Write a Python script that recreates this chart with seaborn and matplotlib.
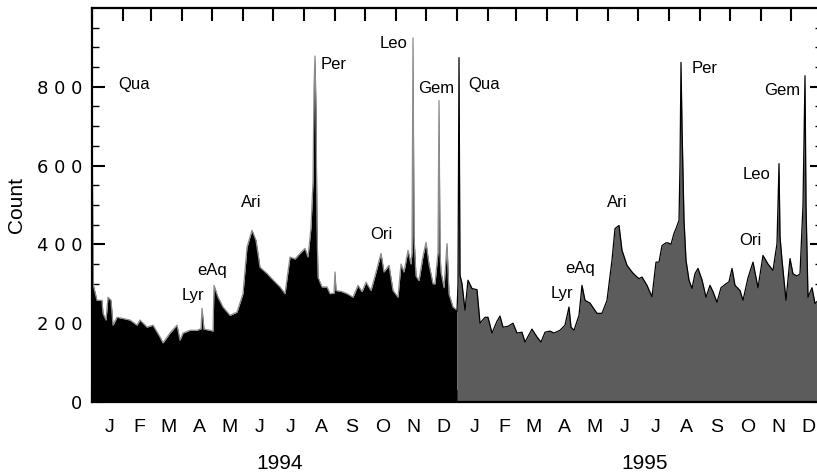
import pandas as pd
import matplotlib
matplotlib.use("Agg")
import matplotlib.pyplot as plt
import seaborn as sns

# daily meteor counts (day of year, count)
days_1994 = [0, 1, 5, 10, 11, 14, 16, 19, 21, 25,
             31, 38, 45, 48, 55, 61, 68, 71, 78, 85,
             88, 91, 98, 105, 109, 110, 112, 118, 121, 122,
             126, 131, 138, 145, 151, 155, 160, 164, 168, 175,
             181, 188, 193, 198, 203, 208, 213, 216, 219, 221,
             222, 223, 224, 225, 226, 230, 235, 238, 242, 243,
             244, 250, 255, 261, 266, 270, 274, 279, 284, 289,
             292, 297, 301, 306, 309, 312, 316, 319, 320, 321,
             322, 324, 327, 331, 334, 337, 341, 343, 346, 347,
             348, 349, 352, 355, 357, 361, 365]
count_1994 = [820, 300, 258, 258, 225, 208, 266, 258, 195, 215,
              212, 208, 195, 208, 190, 195, 165, 150, 175, 195,
              157, 175, 182, 182, 186, 238, 185, 182, 180, 296,
              266, 241, 220, 228, 275, 393, 436, 410, 342, 326,
              310, 292, 275, 368, 363, 377, 390, 368, 443, 560,
              800, 878, 740, 450, 317, 292, 292, 275, 276, 330,
              283, 280, 275, 266, 296, 280, 304, 283, 329, 377,
              330, 347, 283, 266, 350, 330, 385, 350, 380, 924,
              420, 320, 308, 370, 405, 350, 300, 300, 380, 765,
              380, 330, 290, 402, 274, 241, 233]

days_1995 = [0, 1, 2, 3, 5, 8, 11, 15, 20, 23,
             28, 31, 35, 40, 43, 46, 51, 56, 60, 65,
             68, 75, 80, 84, 88, 93, 97, 103, 108, 112,
             114, 117, 122, 125, 128, 133, 140, 145, 150, 155,
             158, 162, 165, 170, 175, 178, 182, 185, 190, 195,
             199, 202, 205, 209, 211, 214, 217, 219, 222, 223,
             224, 225, 227, 229, 232, 235, 238, 241, 245, 249,
             253, 256, 260, 264, 269, 272, 275, 278, 283, 286,
             291, 296, 301, 306, 311, 316, 320, 321, 322, 323,
             325, 329, 333, 336, 340, 343, 346, 348, 349, 351,
             355, 358, 362, 365]
count_1995 = [230, 300, 874, 322, 300, 233, 309, 288, 285, 200,
              215, 215, 175, 205, 218, 190, 192, 200, 175, 177,
              152, 185, 165, 152, 177, 180, 175, 182, 195, 241,
              190, 182, 220, 296, 258, 251, 225, 225, 258, 360,
              440, 448, 385, 347, 330, 322, 313, 317, 296, 267,
              355, 355, 397, 404, 404, 400, 428, 440, 461, 600,
              862, 700, 461, 360, 309, 288, 326, 339, 310, 266,
              296, 280, 253, 290, 300, 305, 339, 296, 283, 258,
              315, 355, 290, 372, 350, 334, 402, 500, 605, 420,
              360, 258, 364, 325, 320, 325, 500, 828, 500, 266,
              290, 250, 260, 258]

month_letters = ['J', 'F', 'M', 'A', 'M', 'J', 'J', 'A', 'S', 'O', 'N', 'D']
month_lengths = [31, 28, 31, 30, 31, 30, 31, 31, 30, 31, 30, 31]
years = ['1994', '1995']

# shower labels: name, day (running over both years), count, alignment
shower_names = ['Qua', 'Lyr', 'eAq', 'Ari', 'Per', 'Ori', 'Leo', 'Gem',
                'Qua', 'Lyr', 'eAq', 'Ari', 'Per', 'Ori', 'Leo', 'Gem']
shower_x = [26, 101, 120, 159, 229, 289, 316, 344,
            376, 470, 488, 525, 600, 658, 665, 690]
shower_y = [805, 271, 334, 506, 856, 425, 911, 795,
            805, 276, 339, 506, 846, 410, 577, 790]
shower_ha = ['left', 'center', 'center', 'center', 'left', 'center', 'right', 'center',
             'left', 'center', 'center', 'center', 'left', 'center', 'center', 'center']

sns.set_style("ticks")
plt.rcParams['font.family'] = ['Liberation Sans', 'DejaVu Sans']
for key in ['text.color', 'axes.labelcolor', 'xtick.color', 'ytick.color', 'axes.edgecolor']:
    plt.rcParams[key] = 'black'

df94 = pd.DataFrame({'day': days_1994, 'count': count_1994})
df95 = pd.DataFrame({'day': [d + 365 for d in days_1995], 'count': count_1995})

fig = plt.figure(figsize=(8.17, 4.73), dpi=100)
ax = fig.add_axes([92 / 817, 71 / 473, 730 / 817, 394 / 473])

ax.fill_between(df94['day'], df94['count'], color='black', lw=0)
ax.fill_between(df95['day'], df95['count'], color='#5c5c5c', lw=0)
sns.lineplot(data=df94, x='day', y='count', color='#8c8c8c', lw=0.9, ax=ax)
sns.lineplot(data=df95, x='day', y='count', color='black', lw=0.9, ax=ax)

ax.set_xlim(0, 730)
ax.set_ylim(0, 1000)

# month boundaries and month centres for both years
starts = []
mids = []
for yr in range(2):
    s = 365 * yr
    for ml in month_lengths:
        starts.append(s)
        mids.append(s + ml / 2 + 2)
        s += ml
ax.set_xticks(starts)
ax.set_xticklabels([])
ax.set_xticks(mids, minor=True)
ax.set_xticklabels(month_letters * 2, minor=True)
ax.tick_params(axis='x', which='major', direction='in', length=9, width=1.5,
               top=True, bottom=True, labelbottom=False)
ax.tick_params(axis='x', which='minor', length=0, pad=12, labelsize=14)

ax.set_yticks(range(0, 1000, 200))
ax.set_yticklabels([' '.join(str(v)) for v in range(0, 1000, 200)],
                   fontfamily='DejaVu Sans')
ax.set_yticks(range(0, 1000, 50), minor=True)
ax.tick_params(axis='y', which='major', direction='in', length=9, width=1.5,
               left=True, right=True, labelsize=13, pad=7)
ax.tick_params(axis='y', which='minor', direction='in', length=5, width=1,
               left=True, right=True)

ax.set_xlabel('')
ax.set_ylabel('Count', fontsize=15, labelpad=8)
for sp in ax.spines.values():
    sp.set_linewidth(1.6)

for name, x, y, ha in zip(shower_names, shower_x, shower_y, shower_ha):
    ax.text(x, y, name, ha=ha, va='center', fontsize=12)

for i, yr in enumerate(years):
    ax.text(188 + 365 * i, -0.155, yr, ha='center', va='center', fontsize=15,
            transform=ax.get_xaxis_transform())

fig.savefig('out.png', dpi=100)
